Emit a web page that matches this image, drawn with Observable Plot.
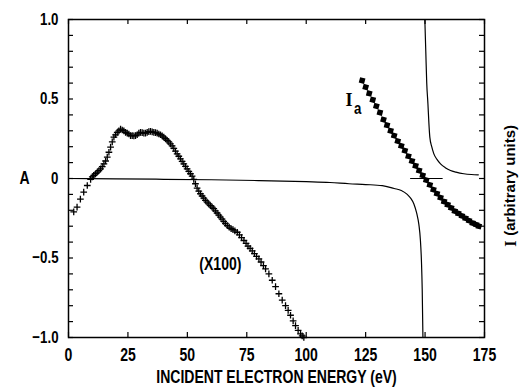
<!DOCTYPE html>
<html><head><meta charset="utf-8">
<script src="https://cdn.jsdelivr.net/npm/d3@7"></script>
<script src="https://cdn.jsdelivr.net/npm/@observablehq/plot@0.6"></script>
<style>body{margin:0;background:#fff}#chart{width:521px;height:388px}</style>
</head><body><div id="chart"></div>
<script>
// ---- data: asymmetry A (x100), measured with "+" markers ----
const plusX = [2.2,3.6,5.0,6.4,7.9,9.3,10.0,10.6,11.4,12.1,12.8,13.5,14.2,14.9,15.6,16.3,17.0,17.7,18.4,19.1,19.8,20.5,21.2,21.9,22.6,23.3,24.0,24.7,25.4,26.1,26.8,27.5,28.2,28.9,29.6,30.3,31.0,31.7,32.4,33.1,33.8,34.5,35.2,35.9,36.6,37.3,38.0,38.7,39.4,40.1,40.8,41.5,42.2,42.9,43.6,44.3,45.0,45.7,46.4,47.1,47.8,48.5,49.2,49.9,50.6,51.3,52.0,52.7,53.4,54.1,54.8,55.5,56.2,56.9,57.6,58.3,59.0,59.7,60.4,61.1,61.8,62.5,63.2,63.9,64.6,65.3,66.0,66.8,67.6,68.4,69.2,70.0,71.0,71.9,72.8,73.8,74.7,75.5,76.4,77.3,78.2,79.1,80.1,81.0,82.0,82.9,84.3,85.7,87.1,88.5,89.9,91.3,92.4,93.4,94.5,95.5,96.6,97.6,98.3,99.0];
const plusY = [-0.21,-0.18,-0.13,-0.086,-0.044,-0.005,0.01,0.02,0.03,0.04,0.05,0.06,0.075,0.092,0.11,0.134,0.165,0.197,0.23,0.26,0.275,0.29,0.30,0.31,0.305,0.30,0.29,0.285,0.28,0.27,0.27,0.268,0.27,0.275,0.285,0.29,0.288,0.285,0.285,0.29,0.295,0.296,0.293,0.29,0.288,0.285,0.28,0.275,0.268,0.26,0.25,0.24,0.23,0.218,0.205,0.19,0.172,0.155,0.14,0.123,0.108,0.092,0.076,0.06,0.045,0.03,0.015,-0.005,-0.033,-0.06,-0.08,-0.096,-0.11,-0.124,-0.137,-0.149,-0.16,-0.17,-0.18,-0.19,-0.203,-0.217,-0.23,-0.243,-0.256,-0.27,-0.283,-0.296,-0.306,-0.315,-0.322,-0.33,-0.338,-0.355,-0.372,-0.39,-0.408,-0.425,-0.44,-0.455,-0.473,-0.49,-0.505,-0.525,-0.548,-0.568,-0.6,-0.64,-0.68,-0.725,-0.765,-0.80,-0.83,-0.86,-0.895,-0.925,-0.955,-0.977,-0.99,-1.0];

// ---- theory curve A, left branch (pole near 149 eV) ----
const curveAX = [0,20,40,60,80,100,110,118,125,132,137,140,142.5,144,145.3,146.5,147.4,148,148.5,148.8,149.1];
const curveAY = [0,-0.002,-0.005,-0.008,-0.013,-0.02,-0.025,-0.033,-0.038,-0.045,-0.063,-0.075,-0.1,-0.125,-0.16,-0.22,-0.29,-0.38,-0.53,-0.7,-1.0];

// ---- right branch ----
const curveBX = [149.9,150.3,150.7,151.2,151.6,152.0,152.8,153.7,155,156.5,158.5,160.7,163,166.3,169.5,172.4];
const curveBY = [1.0,0.8,0.6,0.47,0.35,0.26,0.2,0.155,0.12,0.092,0.068,0.05,0.04,0.03,0.025,0.023];

// ---- intensity Ia, square markers ----
const iaX = [123.5,125,126.5,128,129.5,131,132.5,134,135.5,137,138.5,140,141.5,143,144.5,146,147.5,149,150.5,152,153.5,155,156.5,158,159.5,161,162.5,164,165.5,167,168.5,170,171.5,172.6];
const iaY = [0.616,0.575,0.535,0.495,0.455,0.415,0.37,0.335,0.30,0.27,0.235,0.205,0.175,0.14,0.11,0.08,0.05,0.02,-0.01,-0.04,-0.07,-0.095,-0.12,-0.145,-0.165,-0.185,-0.205,-0.22,-0.235,-0.25,-0.265,-0.28,-0.29,-0.30];

// ---- zero-crossing marker segment ----
const zeroSegX = [143.9, 157.2];
const zeroSegY = [0, 0];

// ---- ticks ----
const xTicks = [0,25,50,75,100,125,150,175];
const yLabelTicks = [-1,-0.5,0,0.5,1];
const yMinorTicks = [-1,-0.9,-0.8,-0.7,-0.6,-0.5,-0.4,-0.3,-0.2,-0.1,0,0.1,0.2,0.3,0.4,0.5,0.6,0.7,0.8,0.9,1];

const zip = (xs, ys) => xs.map((x, i) => ({x, y: ys[i]}));
const plusData = zip(plusX, plusY);
const curveA = zip(curveAX, curveAY);
const curveB = zip(curveBX, curveBY);
const iaData = zip(iaX, iaY);
const zeroSeg = zip(zeroSegX, zeroSegY);

const W = 521, H = 388, mL = 68, mR = 37, mT = 19, mB = 51;
const innerW = W - mL - mR, innerH = H - mT - mB;
const SANS = "Liberation Sans, Arial, sans-serif";
const SERIF = "Liberation Serif, DejaVu Serif, serif";
const fmt = d => d === 0 ? "0" : d.toFixed(1).replace("-", "\u2212");

const chart = Plot.plot({
  width: W, height: H,
  marginLeft: mL, marginRight: mR, marginTop: mT, marginBottom: mB,
  style: {fontFamily: SANS, fontSize: "17px", fontWeight: "bold", color: "black", background: "white"},
  x: {domain: [0, 175]},
  y: {domain: [-1, 1]},
  marks: [
    Plot.frame({stroke: "black", strokeWidth: 1.5}),
    Plot.tickX(xTicks, {x: d => d, insetTop: innerH - 5, stroke: "black", strokeWidth: 1.2}),
    Plot.tickX(xTicks, {x: d => d, insetBottom: innerH - 5, stroke: "black", strokeWidth: 1.2}),
    Plot.tickY(yMinorTicks, {y: d => d, insetRight: innerW - 5, stroke: "black", strokeWidth: 1.2}),
    Plot.tickY(yMinorTicks, {y: d => d, insetLeft: innerW - 5, stroke: "black", strokeWidth: 1.2}),
    Plot.axisX({ticks: xTicks, tickSize: 0, tickPadding: 11, label: null, fontSize: 18}),
    Plot.axisY({ticks: yLabelTicks, tickSize: 0, tickPadding: 10, label: null, tickFormat: fmt, fontSize: 17}),
    Plot.line(curveA, {x: "x", y: "y", stroke: "black", strokeWidth: 1.2, curve: "monotone-x"}),
    Plot.line(curveB, {x: "x", y: "y", stroke: "black", strokeWidth: 1.2, curve: "monotone-x"}),
    Plot.line(zeroSeg, {x: "x", y: "y", stroke: "black", strokeWidth: 1.2}),
    Plot.dot(plusData, {x: "x", y: "y", symbol: "plus", r: 2.3, stroke: "black", strokeWidth: 1.3}),
    Plot.dot(iaData, {x: "x", y: "y", symbol: "square", r: 3.1, fill: "black", stroke: "none", rotate: 15}),
    Plot.text(["INCIDENT ELECTRON ENERGY (eV)"], {frameAnchor: "bottom", dy: 45, fontSize: 18}),
    Plot.text([0], {y: d => d, text: () => "A", frameAnchor: "left", dx: -49, fontSize: 18}),
    Plot.text([{x: 63.9, y: -0.54}], {x: "x", y: "y", text: () => "(X100)", fontSize: 18}),
    Plot.text([{x: 118.0, y: 0.49}], {x: "x", y: "y", text: () => "I", fontSize: 18, fontFamily: SERIF}),
    Plot.text([{x: 121.6, y: 0.44}], {x: "x", y: "y", text: () => "a", fontSize: 17}),
    Plot.text([{x: 175, y: -0.43}], {x: "x", y: "y", text: () => "I", rotate: -90, textAnchor: "start", dx: 26, fontSize: 16, fontFamily: SERIF}),
    Plot.text([{x: 175, y: -0.36}], {x: "x", y: "y", text: () => "(arbitrary units)", rotate: -90, textAnchor: "start", dx: 26, fontSize: 15})
  ]
});

// condense the sans text (Helvetica-Condensed look); keep em-based offsets intact
const K = 0.78;
chart.querySelectorAll("text").forEach(t => {
  const fam = (t.closest("[font-family]") || chart).getAttribute("font-family") || "";
  if (/Serif/.test(fam)) return;
  if (t.textContent === "(arbitrary units)") return;
  const xa = t.getAttribute("x");
  let x = 0;
  if (xa != null && /^-?[\d.]+$/.test(xa.trim())) { x = +xa; t.removeAttribute("x"); }
  const tr = t.getAttribute("transform") || "";
  t.setAttribute("transform", `${tr} translate(${x},0) scale(${K},1)`);
});
document.getElementById("chart").appendChild(chart);
</script>
</body></html>
